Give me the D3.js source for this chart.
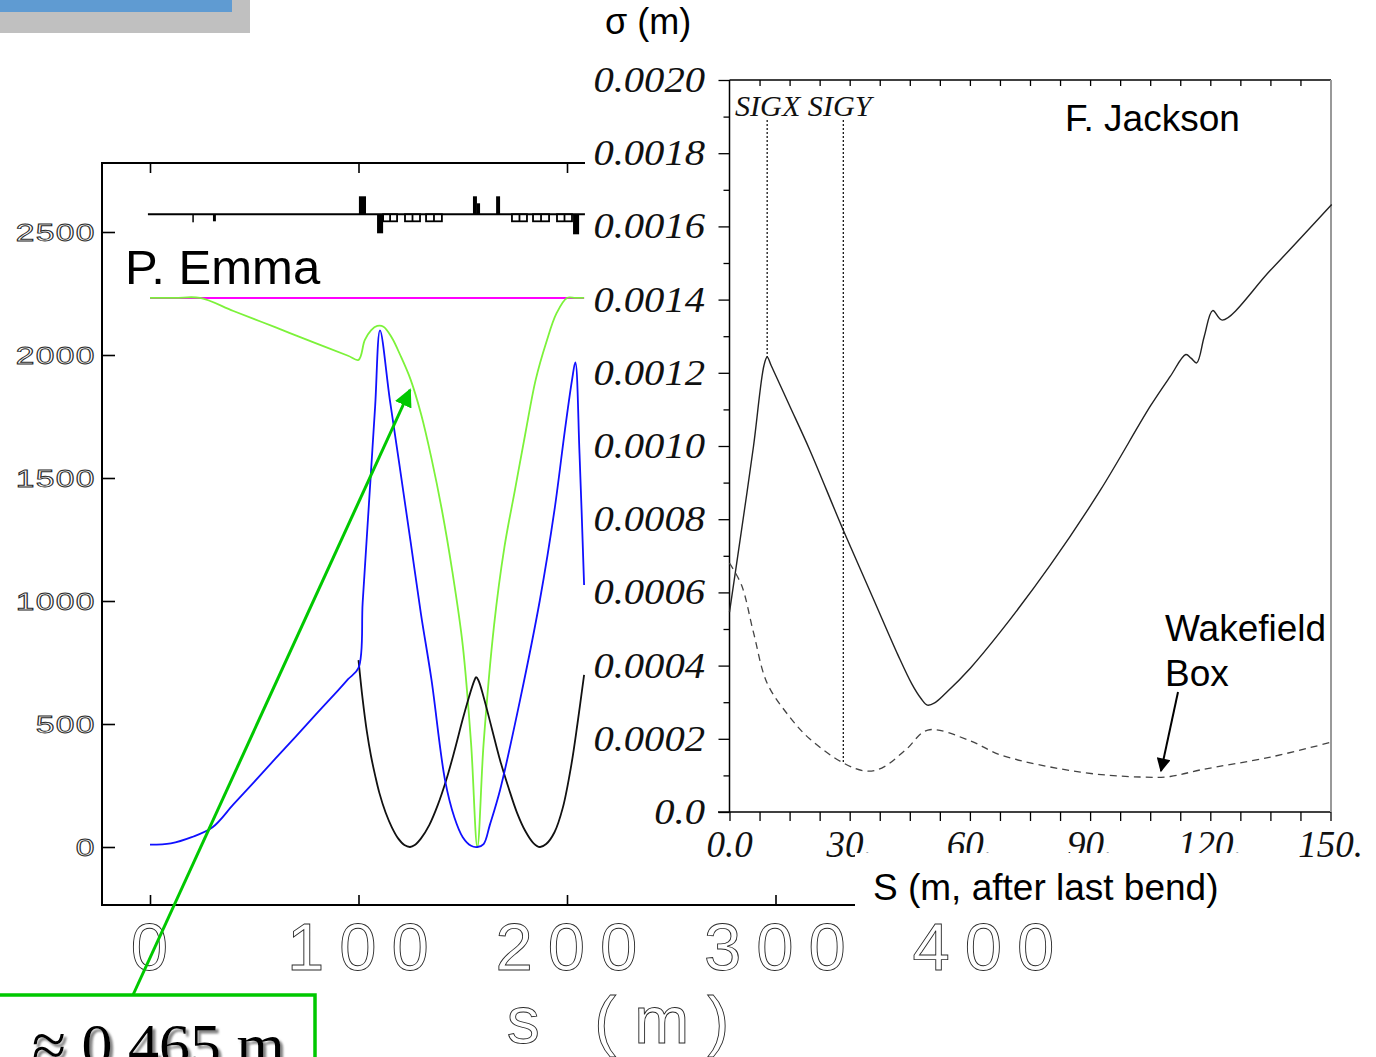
<!DOCTYPE html>
<html>
<head>
<meta charset="utf-8">
<script src="https://cdn.jsdelivr.net/npm/d3@7"></script>
<style>
  body { margin: 0; background: #fff; }
  svg { display: block; }
  .hollow { fill: #fff; stroke: #2a2a2a; stroke-width: 0.9; }
  .sans { font-family: "Liberation Sans", Arial, sans-serif; }
  .serif { font-family: "Liberation Serif", "Times New Roman", serif; font-style: italic; }
</style>
</head>
<body>
<svg id="chart" width="1376" height="1057"></svg>
<script>
// ---------- P. Emma optics (s in m, beta in m) ----------
const emmaTickS = [0, 100, 200, 300, 400];
const emmaTickLabels = ["0", "100", "200", "300", "400"];
const emmaTickBeta = [0, 500, 1000, 1500, 2000, 2500];
const emmaBetaLabels = ["0", "500", "1000", "1500", "2000", "2500"];

const sLimit = [0, 208.2];
const betaLimit = [2232, 2232];

const sGreen = [0, 12, 24, 40, 60, 80, 95, 100, 103, 106, 109, 112, 116, 120, 125, 130, 135, 140, 145, 150, 154, 157, 160, 165, 170, 175, 180, 185, 190, 195, 200, 204, 208.2];
const betaGreen = [2232, 2232, 2232, 2179, 2113, 2046, 1997, 1980, 2060, 2100, 2118, 2115, 2070, 2000, 1900, 1760, 1580, 1370, 1120, 820, 420, 0, 420, 900, 1220, 1450, 1680, 1900, 2050, 2170, 2232, 2232, 2232];

const sBlue = [0, 10, 20, 30, 40, 50, 60, 70, 80, 90, 95, 100, 102, 104, 106, 108, 110.3, 115, 120, 125, 130, 135, 141.5, 146, 150, 154, 157, 160, 163, 167.9, 177.5, 187, 194, 199, 202.4, 204, 206, 208.2];
const betaBlue = [10, 15, 40, 80, 173, 265, 358, 450, 543, 635, 682, 728, 994, 1261, 1527, 1794, 2100, 1820, 1532, 1240, 945, 680, 272, 120, 40, 5, 0, 12, 90, 232, 598, 1004, 1370, 1695, 1898, 1970, 1600, 1065];

const sBlack = [100, 102, 104, 106, 108, 110, 113, 116, 119, 122, 124.7, 127, 130, 134, 138, 142, 146, 150, 153, 155.5, 156.4, 157.5, 160, 164, 168, 172, 176, 180, 184, 187, 190, 194, 198, 202, 205, 208.2];
const betaBlack = [760, 600, 470, 370, 290, 220, 140, 80, 35, 8, 0, 8, 35, 90, 170, 270, 390, 520, 610, 675, 690, 678, 610, 480, 350, 240, 140, 65, 15, 0, 12, 60, 160, 330, 500, 700];

// lattice: element start/end (m), strength (+ focusing up, - down), kind
const magStart = [20.3, 30.2, 100.2, 108.9, 111.8, 122.3, 132.4, 154.9, 156.8, 166.0, 173.6, 183.7, 195.2, 202.9];
const magEnd   = [20.9, 31.6, 103.6, 111.8, 118.5, 129.5, 140.0, 156.8, 158.3, 167.9, 180.8, 191.4, 202.4, 205.8];
const magStrength = [-0.4, -0.35, 0.9, -0.95, -0.35, -0.35, -0.35, 0.9, 0.55, 0.9, -0.35, -0.35, -0.35, -1.0];
const magKind = ["q", "q", "q", "q", "b", "b", "b", "q", "q", "q", "b", "b", "b", "q"];

// ---------- F. Jackson beam sizes (S in m after last bend, sigma in m) ----------
const jackTickS = [0, 30, 60, 90, 120, 150];
const jackTickSLabels = ["0.0", "30.", "60.", "90.", "120.", "150."];
const jackTickSigma = [0, 0.0002, 0.0004, 0.0006, 0.0008, 0.0010, 0.0012, 0.0014, 0.0016, 0.0018, 0.0020];
const jackSigmaLabels = ["0.0", "0.0002", "0.0004", "0.0006", "0.0008", "0.0010", "0.0012", "0.0014", "0.0016", "0.0018", "0.0020"];

const sSigX = [0, 3, 6, 8.6, 9.4, 10.4, 15, 20, 28.4, 36, 42, 45.5, 47.8, 49.4, 51.2, 54, 60.1, 67.6, 80.1, 92.6, 105.1, 110, 113.9, 115.2, 116.6, 118.5, 120.6, 123, 135, 150.3];
const sigX = [0.000546, 0.00077, 0.001, 0.00122, 0.001243, 0.00122, 0.00111, 0.00099, 0.00077, 0.00058, 0.00043, 0.00035, 0.00031, 0.000292, 0.000298, 0.000325, 0.000393, 0.000492, 0.000675, 0.00088, 0.00111, 0.00119, 0.00125, 0.00124, 0.001227, 0.0013, 0.00137, 0.001344, 0.00148, 0.00166];

const sSigY = [0, 3, 6, 9.4, 15, 20, 28.4, 34, 38, 44, 49.5, 60, 67.6, 87.6, 102.5, 110, 117.5, 135, 150.3];
const sigY = [0.00068, 0.00062, 0.00049, 0.000352, 0.00026, 0.0002, 0.000134, 0.000112, 0.00012, 0.00017, 0.000224, 0.000195, 0.000156, 0.000109, 0.0000956, 0.000097, 0.000115, 0.00015, 0.000191];

const markerS = [9.4, 28.4];
const markerNames = ["SIGX", "SIGY"];

// ---------- drawing ----------
const svg = d3.select("#chart");

const defs = svg.append("defs");
defs.append("marker").attr("id", "headGreen").attr("viewBox", "0 0 10 10")
  .attr("refX", 9).attr("refY", 5).attr("markerWidth", 6).attr("markerHeight", 6)
  .attr("orient", "auto").attr("markerUnits", "strokeWidth")
  .append("path").attr("d", "M0,0 L10,5 L0,10 z").attr("fill", "#00c800");
defs.append("marker").attr("id", "headBlack").attr("viewBox", "0 0 10 10")
  .attr("refX", 9).attr("refY", 5).attr("markerWidth", 9).attr("markerHeight", 7)
  .attr("orient", "auto").attr("markerUnits", "strokeWidth")
  .append("path").attr("d", "M0,0 L10,5 L0,10 z").attr("fill", "#000");
const shadow = defs.append("filter").attr("id", "shadow").attr("x", "-10%").attr("y", "-10%").attr("width", "130%").attr("height", "130%");
shadow.append("feDropShadow").attr("dx", 3).attr("dy", 3).attr("stdDeviation", 1.2).attr("flood-color", "#777").attr("flood-opacity", 0.9);

// slide header remnant in the corner
svg.append("rect").attr("x", 0).attr("y", 0).attr("width", 250).attr("height", 33).attr("fill", "#c0c0c0");
svg.append("rect").attr("x", 0).attr("y", 0).attr("width", 232).attr("height", 12).attr("fill", "#5f9bd2");

// ===== left plot: beta functions =====
const xL = d3.scaleLinear().domain([0, 400]).range([150, 984]);
const yL = d3.scaleLinear().domain([0, 2500]).range([847, 232]);
const left = svg.append("g");

// frame
left.append("line").attr("x1", 102).attr("x2", 102).attr("y1", 163).attr("y2", 905).attr("stroke", "#000").attr("stroke-width", 2);
left.append("line").attr("x1", 101).attr("x2", 600).attr("y1", 163).attr("y2", 163).attr("stroke", "#000").attr("stroke-width", 2);
left.append("line").attr("x1", 101).attr("x2", 990).attr("y1", 905).attr("y2", 905).attr("stroke", "#000").attr("stroke-width", 2);

// bottom and top ticks via axes
const axB = left.append("g").attr("transform", "translate(0,905)")
  .call(d3.axisBottom(xL).tickValues(emmaTickS).tickSizeInner(-10).tickSizeOuter(0).tickFormat(""));
const axT = left.append("g").attr("transform", "translate(0,163)")
  .call(d3.axisTop(xL).tickValues([0, 100, 200]).tickSizeInner(-10).tickSizeOuter(0).tickFormat(""));
const axY = left.append("g").attr("transform", "translate(102,0)")
  .call(d3.axisLeft(yL).tickValues(emmaTickBeta).tickSizeInner(-13).tickSizeOuter(0).tickFormat(""));
[axB, axT, axY].forEach(a => {
  a.select(".domain").remove();
  a.selectAll("line").attr("stroke", "#000").attr("stroke-width", 1.6);
});

// y tick labels: hollow digits set in fixed-width cells, right-aligned at the axis
const cellW = 20;
emmaTickBeta.forEach((v, i) => {
  const chars = emmaBetaLabels[i].split("");
  const n = chars.length;
  chars.forEach((ch, k) => {
    const cx = 95 - (n - 1 - k) * cellW - cellW / 2;
    left.append("text").attr("class", "hollow sans")
      .attr("transform", `translate(${cx},${yL(v) + 8.5}) scale(1.4,1)`)
      .attr("text-anchor", "middle").attr("font-size", 24).attr("stroke-width", 0.7)
      .text(ch);
  });
});

// x tick labels
left.selectAll("text.xlab").data(emmaTickS).enter().append("text")
  .attr("class", "xlab hollow sans")
  .attr("x", d => xL(d) + 7).attr("y", 970)
  .attr("text-anchor", "middle")
  .attr("font-size", 67)
  .attr("letter-spacing", 15)
  .attr("stroke-width", 1.0)
  .text((d, i) => emmaTickLabels[i]);

left.append("text").attr("class", "hollow sans")
  .attr("x", 627).attr("y", 1043).attr("text-anchor", "middle")
  .attr("font-size", 66).attr("letter-spacing", 18).attr("stroke-width", 1.0)
  .text("s (m)");

// lattice
const latY = 214.3;
const magScale = d3.scaleLinear().domain([-1, 1]).range([20, -20]);
const lat = left.append("g");
lat.append("line").attr("x1", xL(-1)).attr("x2", xL(208.6)).attr("y1", latY).attr("y2", latY).attr("stroke", "#000").attr("stroke-width", 2);
magStart.forEach((s0, i) => {
  const x0 = xL(s0), x1 = xL(magEnd[i]);
  const yy = latY + magScale(magStrength[i]) - magScale(0);
  const top = Math.min(latY, yy), h = Math.abs(yy - latY);
  if (magKind[i] === "q") {
    lat.append("rect").attr("x", x0).attr("y", top).attr("width", Math.max(1.5, x1 - x0)).attr("height", h).attr("fill", "#000");
  } else {
    lat.append("rect").attr("x", x0).attr("y", top).attr("width", x1 - x0).attr("height", h)
      .attr("fill", "#fff").attr("stroke", "#000").attr("stroke-width", 1.8);
    lat.append("line").attr("x1", (x0 + x1) / 2).attr("x2", (x0 + x1) / 2).attr("y1", top).attr("y2", top + h)
      .attr("stroke", "#000").attr("stroke-width", 1.8);
  }
});

left.append("text").attr("class", "sans").attr("x", 125).attr("y", 284).attr("font-size", 49).attr("fill", "#000").text("P. Emma");

const zip = (a, b) => a.map((v, i) => [v, b[i]]);
const lineStraight = d3.line().x(d => xL(d[0])).y(d => yL(d[1]));
const lineSmooth = d3.line().x(d => xL(d[0])).y(d => yL(d[1])).curve(d3.curveCatmullRom.alpha(0.5));
left.append("path").datum(zip(sLimit, betaLimit)).attr("d", lineStraight).attr("fill", "none").attr("stroke", "#ff00ff").attr("stroke-width", 2);
left.append("path").datum(zip(sGreen, betaGreen)).attr("d", lineSmooth).attr("fill", "none").attr("stroke", "#7cf23a").attr("stroke-width", 1.8);
left.append("path").datum(zip(sBlack, betaBlack)).attr("d", lineSmooth).attr("fill", "none").attr("stroke", "#111").attr("stroke-width", 1.8);
left.append("path").datum(zip(sBlue, betaBlue)).attr("d", lineSmooth).attr("fill", "none").attr("stroke", "#1010ff").attr("stroke-width", 1.8);

// ===== right plot: beam sizes =====
const right = svg.append("g");
right.append("rect").attr("x", 585).attr("y", 66).attr("width", 791).attr("height", 796).attr("fill", "#fff");

const xR = d3.scaleLinear().domain([0, 150]).range([729.5, 1330.5]);
const yR = d3.scaleLinear().domain([0, 0.002]).range([812, 80]);

const minorS = d3.range(0, 150.1, 7.5);
const minorSig = d3.range(0, 0.00201, 0.0001);

const rAxB = right.append("g").attr("transform", "translate(0,812)")
  .call(d3.axisBottom(xR).tickValues(minorS).tickSizeInner(9).tickSizeOuter(0).tickFormat(""));
const rAxT = right.append("g").attr("transform", "translate(0,80)")
  .call(d3.axisTop(xR).tickValues(minorS).tickSizeInner(-6).tickSizeOuter(0).tickFormat(""));
const rAxL = right.append("g").attr("transform", "translate(729.5,0)")
  .call(d3.axisLeft(yR).tickValues(minorSig).tickSizeInner(5).tickSizeOuter(0).tickFormat(""));
[rAxB, rAxT, rAxL].forEach(a => {
  a.select(".domain").remove();
  a.selectAll("line").attr("stroke", "#000").attr("stroke-width", 1.3);
});
rAxL.selectAll(".tick line").attr("x2", d => (Math.round(d * 10000) % 2 === 0 ? -11 : -6));
rAxT.selectAll(".tick line").filter(d => d === 0 || d === 150).remove();

right.append("line").attr("x1", 729.5).attr("x2", 729.5).attr("y1", 80).attr("y2", 812).attr("stroke", "#000").attr("stroke-width", 1.5);
right.append("line").attr("x1", 718).attr("x2", 1331).attr("y1", 812).attr("y2", 812).attr("stroke", "#000").attr("stroke-width", 1.5);
right.append("line").attr("x1", 729.5).attr("x2", 1331).attr("y1", 80).attr("y2", 80).attr("stroke", "#000").attr("stroke-width", 1.3);
right.append("line").attr("x1", 1331).attr("x2", 1331).attr("y1", 80).attr("y2", 812).attr("stroke", "#999").attr("stroke-width", 2);

right.selectAll("text.rylab").data(jackTickSigma).enter().append("text")
  .attr("class", "rylab serif")
  .attr("transform", d => `translate(705,${yR(d) + 12}) scale(1.16,1)`)
  .attr("text-anchor", "end").attr("font-size", 35).attr("fill", "#111")
  .text((d, i) => jackSigmaLabels[i]);

right.selectAll("text.rxlab").data(jackTickS).enter().append("text")
  .attr("class", "rxlab serif")
  .attr("x", d => xR(d)).attr("y", 857)
  .attr("text-anchor", "middle").attr("font-size", 37).attr("fill", "#111")
  .text((d, i) => jackTickSLabels[i]);

const lineRsmooth = d3.line().x(d => xR(d[0])).y(d => yR(d[1])).curve(d3.curveCatmullRom.alpha(0.5));
right.append("path").datum(zip(sSigX, sigX)).attr("d", lineRsmooth).attr("fill", "none").attr("stroke", "#222").attr("stroke-width", 1.4);
right.append("path").datum(zip(sSigY, sigY)).attr("d", lineRsmooth).attr("fill", "none").attr("stroke", "#444").attr("stroke-width", 1.3).attr("stroke-dasharray", "7,5");

// legend names with dotted markers down to each curve
const interp = (xs, ys, s) => {
  const i = d3.bisectLeft(xs, s);
  if (i <= 0) return ys[0];
  if (i >= xs.length) return ys[ys.length - 1];
  const t = (s - xs[i - 1]) / (xs[i] - xs[i - 1]);
  return ys[i - 1] + t * (ys[i] - ys[i - 1]);
};
right.append("text").attr("class", "serif").attr("x", 735).attr("y", 116).attr("font-size", 29).attr("fill", "#111")
  .attr("transform", "translate(735,0) scale(1.04,1) translate(-735,0)")
  .text(markerNames.join(" "));
const markerEnds = [interp(sSigX, sigX, markerS[0]), interp(sSigY, sigY, markerS[1])];
markerS.forEach((s, i) => {
  right.append("line").attr("x1", xR(s)).attr("x2", xR(s)).attr("y1", 120).attr("y2", yR(markerEnds[i]))
    .attr("stroke", "#000").attr("stroke-width", 1.2).attr("stroke-dasharray", "2,2");
});

right.append("text").attr("class", "sans").attr("x", 1065).attr("y", 131).attr("font-size", 37).attr("fill", "#000").text("F. Jackson");
right.append("text").attr("class", "sans").attr("x", 1165).attr("y", 641).attr("font-size", 37).attr("fill", "#000").text("Wakefield");
right.append("text").attr("class", "sans").attr("x", 1165).attr("y", 686).attr("font-size", 37).attr("fill", "#000").text("Box");
right.append("line").attr("x1", 1178).attr("y1", 692).attr("x2", 1161).attr("y2", 771)
  .attr("stroke", "#000").attr("stroke-width", 2).attr("marker-end", "url(#headBlack)");

svg.append("text").attr("class", "sans").attr("x", 605).attr("y", 34).attr("font-size", 36).attr("fill", "#000").text("σ (m)");

// axis title for the right plot on its own white panel
svg.append("rect").attr("x", 855).attr("y", 853).attr("width", 385).attr("height", 62).attr("fill", "#fff");
svg.append("text").attr("class", "sans").attr("x", 873).attr("y", 900).attr("font-size", 37).attr("fill", "#000").text("S (m, after last bend)");

// ===== callout =====
svg.append("line").attr("x1", 133).attr("y1", 995).attr("x2", 410).attr("y2", 390)
  .attr("stroke", "#00c800").attr("stroke-width", 3).attr("marker-end", "url(#headGreen)");
svg.append("rect").attr("x", -5).attr("y", 995).attr("width", 320).attr("height", 100)
  .attr("fill", "#fff").attr("stroke", "#00c800").attr("stroke-width", 3.5);
svg.append("text").attr("x", 32).attr("y", 1066).attr("font-family", "'Liberation Serif', 'Times New Roman', serif")
  .attr("font-size", 62).attr("fill", "#000").attr("filter", "url(#shadow)").text("≈ 0.465 m");
</script>
</body>
</html>
